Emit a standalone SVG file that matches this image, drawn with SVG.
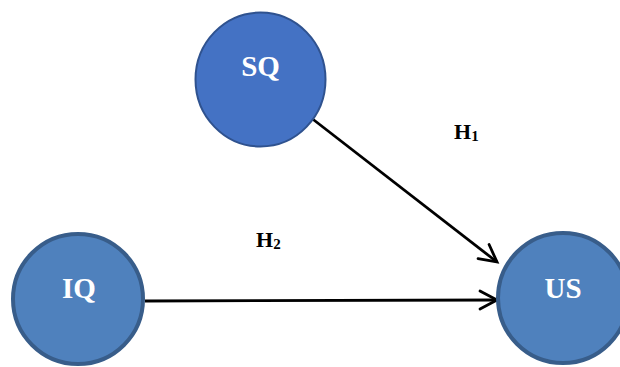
<svg xmlns="http://www.w3.org/2000/svg" width="620" height="367" viewBox="0 0 620 367">
  <defs>
    <marker id="open-arrow" markerUnits="userSpaceOnUse" markerWidth="24" markerHeight="24" refX="20" refY="10" orient="auto" overflow="visible">
      <path d="M3,1 L20,10 L3,19" fill="none" stroke="#000" stroke-width="2.8" stroke-linecap="round" stroke-linejoin="miter"/>
    </marker>
  </defs>
  <style>
    .node-a { fill: #4472C4; stroke: #2F528F; stroke-width: 2; }
    .node-b { fill: #4F81BD; stroke: #385D8A; stroke-width: 4; }
    .node-label { font-family: "Liberation Serif", "Times New Roman", serif; font-weight: bold; font-size: 29px; fill: #fff; text-anchor: middle; }
    .edge { stroke: #000; stroke-width: 2.8; fill: none; marker-end: url(#open-arrow); }
    .edge-label { font-family: "Liberation Serif", "Times New Roman", serif; font-weight: bold; font-size: 22px; fill: #000; }
    .sub { font-size: 15px; }
  </style>
  <rect width="620" height="367" fill="#fff"/>

  <g id="connectors">
    <line class="edge" x1="310" y1="117" x2="497" y2="262"/>
    <line class="edge" x1="145" y1="301" x2="497" y2="300"/>
  </g>

  <g id="labels">
    <text class="edge-label" x="454" y="139">H<tspan class="sub" dy="2">1</tspan></text>
    <text class="edge-label" x="256" y="247">H<tspan class="sub" dy="2">2</tspan></text>
  </g>

  <g id="node-sq">
    <ellipse class="node-a" cx="260.5" cy="79.5" rx="65" ry="67"/>
    <text class="node-label" x="260.5" y="76">SQ</text>
  </g>

  <g id="node-iq">
    <circle class="node-b" cx="78" cy="299" r="65"/>
    <text class="node-label" x="79" y="298">IQ</text>
  </g>

  <g id="node-us">
    <circle class="node-b" cx="563" cy="298" r="65"/>
    <text class="node-label" x="563" y="298">US</text>
  </g>
</svg>
